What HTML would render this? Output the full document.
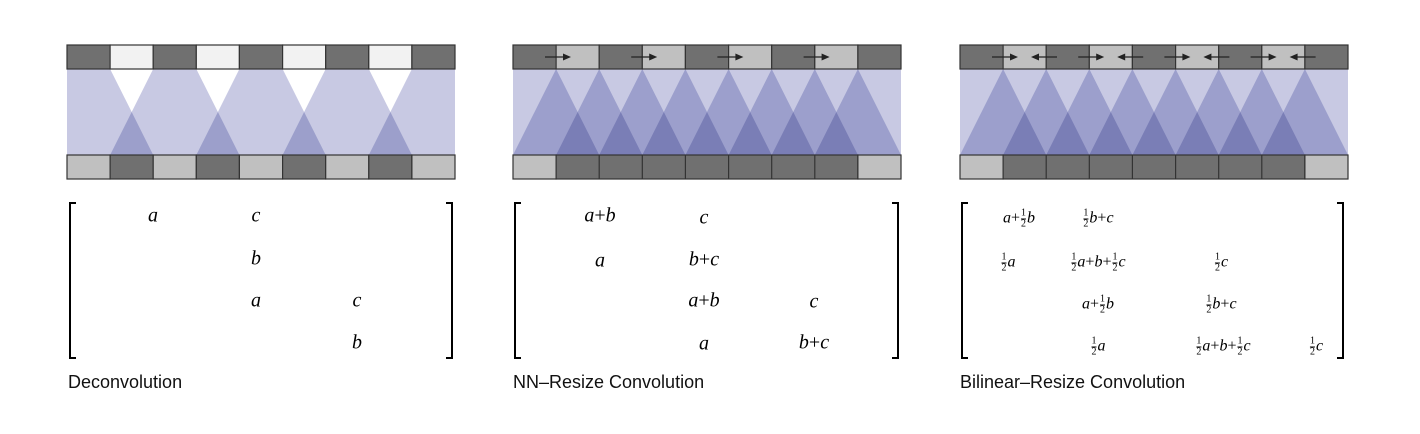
<!DOCTYPE html>
<html><head><meta charset="utf-8"><style>
html,body{margin:0;padding:0;background:#fff}
#w{position:relative;width:1420px;height:434px;overflow:hidden;font-family:"Liberation Serif",serif}
.t{position:absolute;transform:translate(-50%,-50%);font-style:italic;font-size:20px;white-space:nowrap;color:#000}
.s{font-size:16px}
.f{display:inline-flex;flex-direction:column;align-items:center;font-style:normal;font-size:10px;line-height:10px;vertical-align:middle;margin:0 1px}
.f span:first-child{border-bottom:0.8px solid #000}
.n{font-style:normal}
.lab{position:absolute;font-family:"Liberation Sans",sans-serif;font-size:18px;color:#111;top:372px}
</style></head><body><div id="w">
<svg width="1420" height="434" style="position:absolute;left:0;top:0">
<defs>
<g id="tri">
<rect x="0" y="69" width="388" height="86" fill="#c8c9e3"/>
<g fill="#c7cae5" style="mix-blend-mode:multiply">
<polygon points="43.1,69 0,155 86.2,155" style="mix-blend-mode:multiply"/>
<polygon points="86.2,69 43.1,155 129.3,155" style="mix-blend-mode:multiply"/>
<polygon points="129.3,69 86.2,155 172.4,155" style="mix-blend-mode:multiply"/>
<polygon points="172.4,69 129.3,155 215.6,155" style="mix-blend-mode:multiply"/>
<polygon points="215.6,69 172.4,155 258.7,155" style="mix-blend-mode:multiply"/>
<polygon points="258.7,69 215.6,155 301.8,155" style="mix-blend-mode:multiply"/>
<polygon points="301.8,69 258.7,155 344.9,155" style="mix-blend-mode:multiply"/>
<polygon points="344.9,69 301.8,155 388,155" style="mix-blend-mode:multiply"/>
</g>
</g>
<g id="rowA" stroke="#333" stroke-width="1.2">
<rect x="0" y="0" width="43.1" height="24" fill="#707070"/>
<rect x="43.1" y="0" width="43.1" height="24" fill="#c0c0c0"/>
<rect x="86.2" y="0" width="43.1" height="24" fill="#707070"/>
<rect x="129.3" y="0" width="43.1" height="24" fill="#c0c0c0"/>
<rect x="172.4" y="0" width="43.2" height="24" fill="#707070"/>
<rect x="215.6" y="0" width="43.1" height="24" fill="#c0c0c0"/>
<rect x="258.7" y="0" width="43.1" height="24" fill="#707070"/>
<rect x="301.8" y="0" width="43.1" height="24" fill="#c0c0c0"/>
<rect x="344.9" y="0" width="43.1" height="24" fill="#707070"/>
</g>
<g id="rowB" stroke="#333" stroke-width="1.2">
<rect x="0" y="0" width="43.1" height="24" fill="#c0c0c0"/>
<rect x="43.1" y="0" width="301.8" height="24" fill="#707070"/>
<line x1="86.2" y1="0" x2="86.2" y2="24"/><line x1="129.3" y1="0" x2="129.3" y2="24"/>
<line x1="172.4" y1="0" x2="172.4" y2="24"/><line x1="215.6" y1="0" x2="215.6" y2="24"/>
<line x1="258.7" y1="0" x2="258.7" y2="24"/><line x1="301.8" y1="0" x2="301.8" y2="24"/>
<rect x="344.9" y="0" width="43.1" height="24" fill="#c0c0c0"/>
</g>
<g id="br" fill="none" stroke="#000" stroke-width="2">
<polyline points="6,203 0,203 0,358 6,358"/>
</g>
<g id="ar"><line x1="0" y1="0" x2="20" y2="0" stroke="#222" stroke-width="1.3"/><polygon points="26,0 18,-3.5 18,3.5" fill="#222"/></g>
</defs>

<!-- Panel 1 -->
<g transform="translate(67,0)">
<rect x="0" y="69" width="388" height="86" fill="#c8c9e3"/>
<g fill="#fff">
<polygon points="43.1,69 86.2,69 64.7,112"/><polygon points="129.3,69 172.4,69 150.9,112"/>
<polygon points="215.6,69 258.7,69 237.1,112"/><polygon points="301.8,69 344.9,69 323.4,112"/>
</g>
<g fill="#9c9fcb">
<polygon points="43.1,155 86.2,155 64.7,112"/><polygon points="129.3,155 172.4,155 150.9,112"/>
<polygon points="215.6,155 258.7,155 237.1,112"/><polygon points="301.8,155 344.9,155 323.4,112"/>
</g>
<g transform="translate(0,45)" stroke="#333" stroke-width="1.2">
<rect x="0" y="0" width="43.1" height="24" fill="#707070"/>
<rect x="43.1" y="0" width="43.1" height="24" fill="#f2f2f2"/>
<rect x="86.2" y="0" width="43.1" height="24" fill="#707070"/>
<rect x="129.3" y="0" width="43.1" height="24" fill="#f2f2f2"/>
<rect x="172.4" y="0" width="43.2" height="24" fill="#707070"/>
<rect x="215.6" y="0" width="43.1" height="24" fill="#f2f2f2"/>
<rect x="258.7" y="0" width="43.1" height="24" fill="#707070"/>
<rect x="301.8" y="0" width="43.1" height="24" fill="#f2f2f2"/>
<rect x="344.9" y="0" width="43.1" height="24" fill="#707070"/>
</g>
<g transform="translate(0,155)" stroke="#333" stroke-width="1.2">
<rect x="0" y="0" width="43.1" height="24" fill="#c0c0c0"/>
<rect x="43.1" y="0" width="43.1" height="24" fill="#707070"/>
<rect x="86.2" y="0" width="43.1" height="24" fill="#c0c0c0"/>
<rect x="129.3" y="0" width="43.1" height="24" fill="#707070"/>
<rect x="172.4" y="0" width="43.2" height="24" fill="#c0c0c0"/>
<rect x="215.6" y="0" width="43.1" height="24" fill="#707070"/>
<rect x="258.7" y="0" width="43.1" height="24" fill="#c0c0c0"/>
<rect x="301.8" y="0" width="43.1" height="24" fill="#707070"/>
<rect x="344.9" y="0" width="43.1" height="24" fill="#c0c0c0"/>
</g>
</g>

<!-- Panel 2 -->
<g transform="translate(513,0)">
<use href="#tri"/>
<use href="#rowA" y="45"/>
<use href="#rowB" y="155"/>
<use href="#ar" x="32" y="57"/><use href="#ar" x="118.2" y="57"/><use href="#ar" x="204.4" y="57"/><use href="#ar" x="290.6" y="57"/>
</g>

<!-- Panel 3 -->
<g transform="translate(960,0)">
<use href="#tri"/>
<use href="#rowA" y="45"/>
<use href="#rowB" y="155"/>
<g>
<use href="#ar" x="32" y="57"/><use href="#ar" transform="translate(97,57) scale(-1,1)"/>
<use href="#ar" x="118.2" y="57"/><use href="#ar" transform="translate(183.2,57) scale(-1,1)"/>
<use href="#ar" x="204.4" y="57"/><use href="#ar" transform="translate(269.4,57) scale(-1,1)"/>
<use href="#ar" x="290.6" y="57"/><use href="#ar" transform="translate(355.6,57) scale(-1,1)"/>
</g>
</g>

<!-- brackets -->
<use href="#br" x="70"/><use href="#br" transform="translate(452,0) scale(-1,1)"/>
<use href="#br" x="515"/><use href="#br" transform="translate(898,0) scale(-1,1)"/>
<use href="#br" x="962"/><use href="#br" transform="translate(1343,0) scale(-1,1)"/>
</svg>

<!-- Panel 1 matrix -->
<div class="t" style="left:153px;top:216px">a</div>
<div class="t" style="left:256px;top:216px">c</div>
<div class="t" style="left:256px;top:259px">b</div>
<div class="t" style="left:256px;top:301px">a</div>
<div class="t" style="left:357px;top:301px">c</div>
<div class="t" style="left:357px;top:343px">b</div>

<!-- Panel 2 matrix -->
<div class="t" style="left:600px;top:216px">a<span class="n">+</span>b</div>
<div class="t" style="left:704px;top:218px">c</div>
<div class="t" style="left:600px;top:261px">a</div>
<div class="t" style="left:704px;top:260px">b<span class="n">+</span>c</div>
<div class="t" style="left:704px;top:301px">a<span class="n">+</span>b</div>
<div class="t" style="left:814px;top:302px">c</div>
<div class="t" style="left:704px;top:344px">a</div>
<div class="t" style="left:814px;top:343px">b<span class="n">+</span>c</div>

<!-- Panel 3 matrix -->
<div class="t s" style="left:1019px;top:219px">a<span class="n">+</span><span class="f"><span>1</span><span>2</span></span>b</div>
<div class="t s" style="left:1098px;top:219px"><span class="f"><span>1</span><span>2</span></span>b<span class="n">+</span>c</div>
<div class="t s" style="left:1008px;top:263px"><span class="f"><span>1</span><span>2</span></span>a</div>
<div class="t s" style="left:1098px;top:263px"><span class="f"><span>1</span><span>2</span></span>a<span class="n">+</span>b<span class="n">+</span><span class="f"><span>1</span><span>2</span></span>c</div>
<div class="t s" style="left:1221px;top:263px"><span class="f"><span>1</span><span>2</span></span>c</div>
<div class="t s" style="left:1098px;top:305px">a<span class="n">+</span><span class="f"><span>1</span><span>2</span></span>b</div>
<div class="t s" style="left:1221px;top:305px"><span class="f"><span>1</span><span>2</span></span>b<span class="n">+</span>c</div>
<div class="t s" style="left:1098px;top:347px"><span class="f"><span>1</span><span>2</span></span>a</div>
<div class="t s" style="left:1223px;top:347px"><span class="f"><span>1</span><span>2</span></span>a<span class="n">+</span>b<span class="n">+</span><span class="f"><span>1</span><span>2</span></span>c</div>
<div class="t s" style="left:1316px;top:347px"><span class="f"><span>1</span><span>2</span></span>c</div>

<div class="lab" style="left:68px">Deconvolution</div>
<div class="lab" style="left:513px">NN–Resize Convolution</div>
<div class="lab" style="left:960px">Bilinear–Resize Convolution</div>
</div></body></html>
